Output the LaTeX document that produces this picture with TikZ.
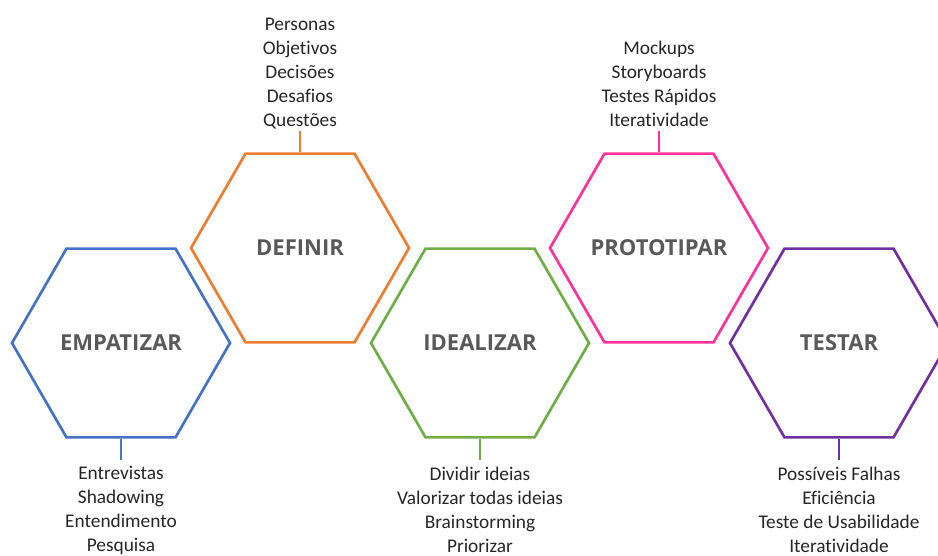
\documentclass[tikz,border=0pt]{standalone}
\usepackage{fontspec}
\setmainfont{Carlito}[Ligatures={TeX,NoCommon}]
\newfontfamily\titlefont{Open Sans}
\usetikzlibrary{shapes.geometric}
\definecolor{empblue}{HTML}{4472C4}
\definecolor{deforange}{HTML}{ED7D31}
\definecolor{idegreen}{HTML}{70AD47}
\definecolor{propink}{HTML}{FF3399}
\definecolor{tespurple}{HTML}{7030A0}
\tikzset{hexa/.style={
    regular polygon, regular polygon sides=6,
    minimum size=163.5pt, inner sep=0pt,
    draw=#1, line width=2pt
  },
  title/.style={font=\titlefont\bfseries\fontsize{16.5}{20}\selectfont, text=black!65},
  stem/.style={line width=2pt, draw=#1},
  items/.style={align=center, inner sep=2pt,
    font=\fontsize{14.5}{18}\selectfont, text=black!85},
  items below/.style={items, anchor=north, inner ysep=5pt},
  items above/.style={items, anchor=south, text depth=0pt, inner ysep=3pt}
}
\begin{document}
\begin{tikzpicture}[x=0.75pt,y=-0.75pt]
      \useasboundingbox (0,0) rectangle (938,556);
      % the five hexagons
      \node[hexa=empblue] (emp) at (121,343) {};
      \node[title] (emp-title) at (emp.center) {EMPATIZAR};
      \node[hexa=deforange] (def) at (300,248) {};
      \node[title] (def-title) at (def.center) {DEFINIR};
      \node[hexa=idegreen] (ide) at (480,343) {};
      \node[title] (ide-title) at (ide.center) {IDEALIZAR};
      \node[hexa=propink] (pro) at (659,248) {};
      \node[title] (pro-title) at (pro.center) {PROTOTIPAR};
      \node[hexa=tespurple] (tes) at (839,343) {};
      \node[title] (tes-title) at (tes.center) {TESTAR};
      % stems and lists
      \draw[stem=empblue] (emp.south) -- ++(0,21) coordinate (emp-end);
      \node[items below] (emp-list) at (emp-end) {Entrevistas\\Shadowing\\Entendimento\\Pesquisa};
      \draw[stem=deforange] (def.north) -- ++(0,-21) coordinate (def-end);
      \node[items above] (def-list) at (def-end) {Personas\\Objetivos\\Decisões\\Desafios\\Questões};
      \draw[stem=idegreen] (ide.south) -- ++(0,21) coordinate (ide-end);
      \node[items below] (ide-list) at (ide-end) {Dividir ideias\\Valorizar todas ideias\\Brainstorming\\Priorizar};
      \draw[stem=propink] (pro.north) -- ++(0,-21) coordinate (pro-end);
      \node[items above] (pro-list) at (pro-end) {Mockups\\Storyboards\\Testes Rápidos\\Iteratividade};
      \draw[stem=tespurple] (tes.south) -- ++(0,21) coordinate (tes-end);
      \node[items below] (tes-list) at (tes-end) {Possíveis Falhas\\Eficiência\\Teste de Usabilidade\\Iteratividade};
    \end{tikzpicture}
\end{document}
